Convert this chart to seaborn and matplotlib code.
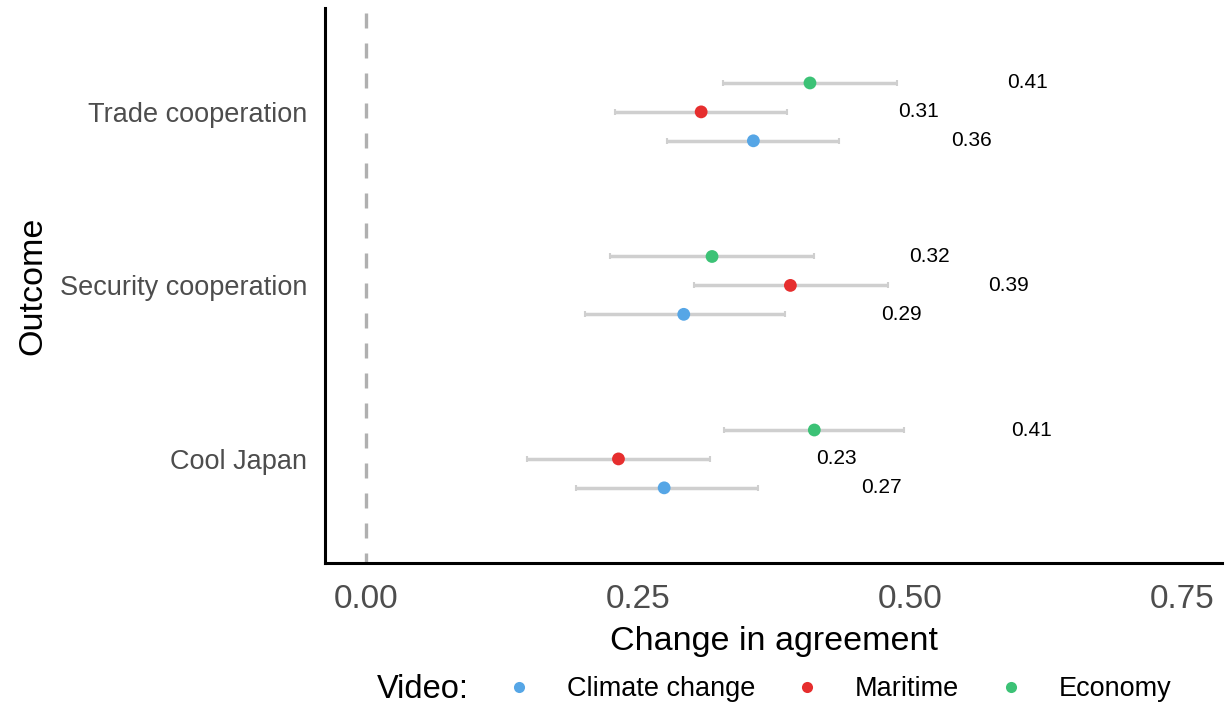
import matplotlib
matplotlib.use("Agg")
import matplotlib.pyplot as plt
from matplotlib.lines import Line2D
import numpy as np
import pandas as pd
import seaborn as sns

# data
outcomes = ["Cool Japan", "Security cooperation", "Trade cooperation"]
videos = ["Climate change", "Maritime", "Economy"]
est_climate = [0.274, 0.292, 0.356]
lo_climate = [0.193, 0.201, 0.277]
hi_climate = [0.360, 0.385, 0.435]
est_maritime = [0.232, 0.390, 0.308]
lo_maritime = [0.148, 0.301, 0.229]
hi_maritime = [0.316, 0.480, 0.387]
est_economy = [0.412, 0.318, 0.408]
lo_economy = [0.329, 0.224, 0.328]
hi_economy = [0.494, 0.412, 0.488]

colors = {"Climate change": "#56A6E6", "Maritime": "#E62E2E", "Economy": "#3CC276"}
offsets = {"Climate change": -1 / 6, "Maritime": 0.0, "Economy": 1 / 6}

rows = []
for vid, est, lo, hi in [("Climate change", est_climate, lo_climate, hi_climate),
                         ("Maritime", est_maritime, lo_maritime, hi_maritime),
                         ("Economy", est_economy, lo_economy, hi_economy)]:
    for i, out in enumerate(outcomes):
        rows.append({"outcome": out, "video": vid, "estimate": est[i],
                     "lo": lo[i], "hi": hi[i], "ypos": i + offsets[vid]})
df = pd.DataFrame(rows)

sns.set_style("white")
plt.rcParams["font.family"] = ["Liberation Sans", "DejaVu Sans"]
plt.rcParams["text.color"] = "black"

fig = plt.figure(figsize=(12.31, 7.06), dpi=100)
ax = fig.add_axes([0.264, 0.2025, 0.729, 0.7865])

ax.axvline(0, color="#B0B0B0", linestyle=(1.5, (4.5, 4.5)), linewidth=2.4, zorder=1)
ax.errorbar(df["estimate"], df["ypos"],
            xerr=[df["estimate"] - df["lo"], df["hi"] - df["estimate"]],
            fmt="none", ecolor="#CFCFCF", elinewidth=2.5, capsize=2,
            capthick=1.5, zorder=2)
sns.scatterplot(data=df, x="estimate", y="ypos", hue="video", palette=colors,
                s=85, edgecolor="none", legend=False, ax=ax, zorder=3)
for _, r in df.iterrows():
    ax.text(r["estimate"] + 0.2, r["ypos"], f"{r['estimate']:.2f}",
            ha="center", va="center", fontsize=15, color="black")

ax.set_xlim(-0.0377, 0.787)
ax.set_ylim(-0.6, 2.6)
ax.set_xticks([0, 0.25, 0.5, 0.75])
ax.set_xticklabels(["0.00", "0.25", "0.50", "0.75"])
ax.set_yticks(range(len(outcomes)))
ax.set_yticklabels(outcomes)
ax.tick_params(axis="x", length=6, width=1.5, color="#333333", labelsize=24,
               labelcolor="#4D4D4D", pad=9)
ax.tick_params(axis="y", length=0, labelsize=19.5, labelcolor="#4D4D4D", pad=13)
ax.set_xlabel("Change in agreement", fontsize=24.5, labelpad=8, color="black")
ax.set_ylabel("Outcome", fontsize=24.5, labelpad=8, color="black")
sns.despine(ax=ax)
for s in ["left", "bottom"]:
    ax.spines[s].set_linewidth(2.2)
    ax.spines[s].set_color("black")

handles = [Line2D([], [], marker="o", linestyle="none", markersize=8,
                  markerfacecolor=colors[v], markeredgecolor="none", label=v)
           for v in videos]
fig.text(0.306, 0.024, "Video:", fontsize=23.5, va="center", ha="left", color="black")
leg = fig.legend(handles=handles, loc="center", bbox_to_anchor=(0.681, 0.024), ncol=3,
                 frameon=False, fontsize=19.5, handlelength=1.0, handletextpad=1.28,
                 columnspacing=1.4, borderaxespad=0, borderpad=0)
for t in leg.get_texts():
    t.set_color("black")

fig.savefig("out.png", dpi=100)
